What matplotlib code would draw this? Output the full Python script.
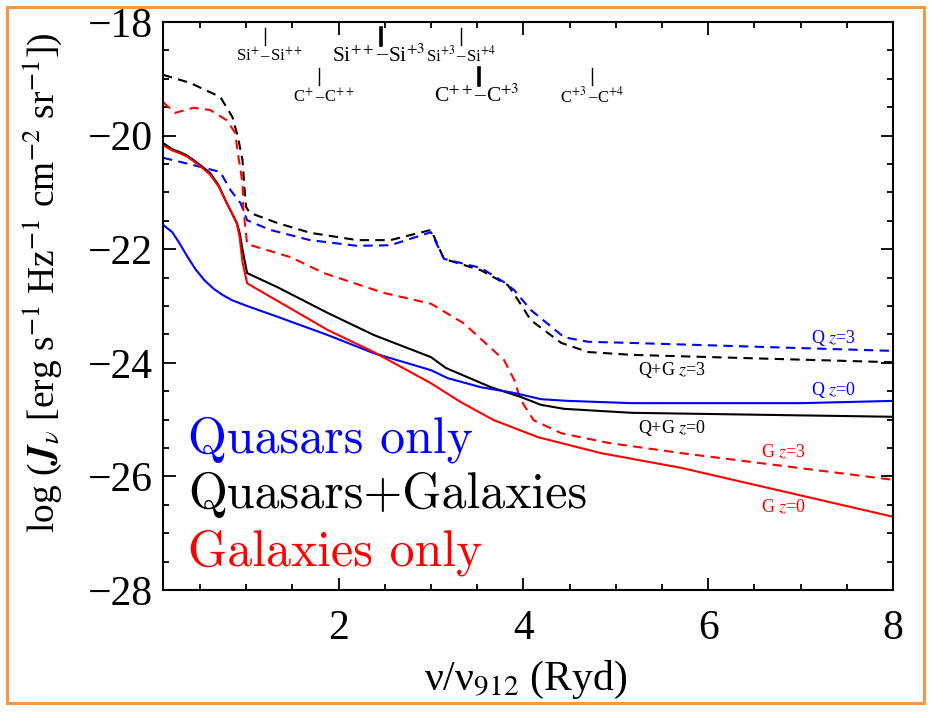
import matplotlib
matplotlib.use("Agg")
import matplotlib.pyplot as plt
from matplotlib.patches import Rectangle
from matplotlib.ticker import MultipleLocator

plt.rcParams['font.family'] = ['Liberation Serif', 'DejaVu Serif']
plt.rcParams['mathtext.fontset'] = 'stix'

# Q+G z=3 (black dashed)
qg3_x = [0.10, 0.39, 0.72, 0.85, 0.91, 0.96, 0.98, 1.00, 1.04, 1.34, 1.69, 2.20, 2.56, 3.00,
         3.14, 3.54, 3.83, 3.94, 4.08, 4.41, 4.70, 5.17, 8.00]
qg3_y = [-18.93, -19.07, -19.32, -19.67, -20.02, -20.43, -20.90, -21.26, -21.36, -21.54, -21.71,
         -21.84, -21.84, -21.66, -22.17, -22.37, -22.63, -22.89, -23.25, -23.65, -23.81, -23.86, -23.99]

# Q z=3 (blue dashed)
q3_x = [0.10, 0.43, 0.72, 0.83, 0.94, 1.01, 1.26, 1.69, 2.20, 2.56, 3.00, 3.14, 3.54, 3.79,
        3.90, 4.08, 4.44, 4.70, 5.17, 8.00]
q3_y = [-20.39, -20.52, -20.64, -20.96, -21.19, -21.49, -21.66, -21.84, -21.94, -21.93, -21.70,
        -22.17, -22.33, -22.58, -22.72, -23.07, -23.55, -23.63, -23.65, -23.79]

# G z=3 (red dashed)
g3_x = [0.10, 0.23, 0.43, 0.61, 0.79, 0.88, 0.91, 0.96, 0.97, 1.01, 1.48, 1.84, 2.49, 3.00,
        3.35, 3.79, 3.90, 3.97, 4.11, 4.41, 4.92, 5.71, 8.00]
g3_y = [-19.41, -19.60, -19.51, -19.55, -19.73, -19.95, -20.31, -20.83, -21.31, -21.91, -22.14,
        -22.42, -22.77, -22.96, -23.30, -23.95, -24.30, -24.65, -25.01, -25.24, -25.41, -25.59, -26.06]

# Q+G z=0 (black solid)
qg0_x = [0.10, 0.20, 0.28, 0.36, 0.43, 0.52, 0.61, 0.70, 0.79, 0.85, 0.90, 0.93, 0.96, 1.01,
         1.34, 1.88, 2.38, 3.00, 3.16, 3.65, 3.97, 4.19, 4.44, 5.17, 8.00]
qg0_y = [-20.13, -20.24, -20.29, -20.35, -20.43, -20.54, -20.66, -20.87, -21.19, -21.38, -21.54,
         -21.72, -22.01, -22.42, -22.67, -23.12, -23.51, -23.90, -24.09, -24.43, -24.60, -24.74,
         -24.81, -24.88, -24.95]

# G z=0 (red solid)
g0_x = [0.10, 0.20, 0.28, 0.36, 0.43, 0.52, 0.61, 0.70, 0.79, 0.85, 0.90, 0.93, 0.96, 1.01,
        1.88, 2.38, 3.00, 3.32, 3.68, 4.16, 4.84, 5.71, 8.00]
g0_y = [-20.17, -20.26, -20.31, -20.37, -20.45, -20.56, -20.69, -20.89, -21.19, -21.38, -21.56,
        -21.80, -22.23, -22.60, -23.42, -23.81, -24.36, -24.69, -25.01, -25.31, -25.59, -25.85, -26.71]

# Q z=0 (blue solid)
q0_x = [0.10, 0.20, 0.28, 0.36, 0.45, 0.55, 0.65, 0.75, 0.85, 1.01, 1.34, 1.88, 2.38, 3.00,
        3.18, 3.54, 3.90, 4.19, 4.48, 5.17, 7.01, 8.00]
q0_y = [-21.57, -21.70, -21.90, -22.12, -22.35, -22.55, -22.70, -22.81, -22.90, -23.00, -23.19,
        -23.51, -23.83, -24.13, -24.27, -24.43, -24.53, -24.64, -24.67, -24.71, -24.71, -24.67]

# ionisation edges (Ryd)
ion_x = [1.20, 2.46, 3.32, 1.79, 3.52, 4.74]
ion_left = ['Si$^{+}$', 'Si$^{++}$', 'Si$^{+3}$', 'C$^{+}$', 'C$^{++}$', 'C$^{+3}$']
ion_right = ['Si$^{++}$', 'Si$^{+3}$', 'Si$^{+4}$', 'C$^{++}$', 'C$^{+3}$', 'C$^{+4}$']
ion_row = [0, 0, 0, 1, 1, 1]
ion_big = [False, True, False, False, True, False]

# curve labels
lab_text = ['Q $z$=3', 'Q+G $z$=3', 'Q $z$=0', 'Q+G $z$=0', 'G $z$=3', 'G $z$=0']
lab_x = [7.36, 5.61, 7.36, 5.61, 6.81, 6.81]
lab_y = [-23.56, -24.12, -24.48, -25.15, -25.57, -26.54]
lab_col = ['blue', 'black', 'blue', 'black', 'red', 'red']

fig = plt.figure(figsize=(9.3, 7.12), dpi=100)
ax = fig.add_axes([0.1753, 0.1713, 0.785, 0.7978])

dash = (4.5, 3)
lw = 1.5
ax.plot(qg3_x, qg3_y, color='black', lw=lw, dashes=dash)
ax.plot(q3_x, q3_y, color='blue', lw=lw, dashes=dash)
ax.plot(g3_x, g3_y, color='red', lw=lw, dashes=dash)
ax.plot(qg0_x, qg0_y, color='black', lw=lw)
ax.plot(q0_x, q0_y, color='blue', lw=lw)
ax.plot(g0_x, g0_y, color='red', lw=lw)

ax.set_xlim(0.1, 8)
ax.set_ylim(-28, -18)
ax.xaxis.set_major_locator(MultipleLocator(2))
ax.xaxis.set_minor_locator(MultipleLocator(0.5))
ax.yaxis.set_major_locator(MultipleLocator(2))
ax.yaxis.set_minor_locator(MultipleLocator(0.5))
ax.tick_params(which='both', direction='in', top=True, right=True, width=1.3)
ax.tick_params(which='major', length=9, labelsize=30)
ax.tick_params(which='minor', length=4.5)
ax.tick_params(axis='x', pad=14)
ax.tick_params(axis='y', pad=7)
for s in ax.spines.values():
    s.set_linewidth(1.5)

# ion edge markers
row_tick = [(-18.11, -18.40), (-18.81, -19.11)]
row_base = [-18.70, -19.41]
for x, l, r, row, big in zip(ion_x, ion_left, ion_right, ion_row, ion_big):
    fs = 15.5 if big else 12
    ax.plot([x, x], row_tick[row], color='black', lw=2.6 if big else 1.0)
    half = fs * 0.3
    kw = dict(xy=(x, row_base[row]), textcoords='offset points', fontsize=fs)
    ax.annotate(l, xytext=(-half, 0), ha='right', va='baseline', **kw)
    ax.annotate('\u2013', xytext=(0, fs * 0.32), ha='center', va='center', **kw)
    ax.annotate(r, xytext=(half, 0), ha='left', va='baseline', **kw)

for t, x, y, c in zip(lab_text, lab_x, lab_y, lab_col):
    ax.text(x, y, t, color=c, fontsize=13, ha='center', va='center')

legend_font = ['cmr10', 'DejaVu Serif']
ax.text(0.034, 0.243, 'Quasars only', color='blue', fontsize=36, family=legend_font,
        transform=ax.transAxes, va='baseline')
ax.text(0.034, 0.144, 'Quasars+Galaxies', color='black', fontsize=36, family=legend_font,
        transform=ax.transAxes, va='baseline')
ax.text(0.034, 0.044, 'Galaxies only', color='red', fontsize=36, family=legend_font,
        transform=ax.transAxes, va='baseline')

fig.text(526 / 930, 1 - 680 / 712, '\u03bd/\u03bd$_{912}$ (Ryd)', fontsize=30,
         ha='center', va='center')
fig.text(42 / 930, 1 - 283 / 712,
         r'log ($\mathbfit{J}_{\nu}$ [erg s$^{-1}$ Hz$^{-1}$ cm$^{-2}$ sr$^{-1}$])',
         fontsize=27, rotation=90, ha='center', va='center')

# slide frame
fig.add_artist(Rectangle((7 / 930, 9 / 712), 917 / 930, 696 / 712, transform=fig.transFigure,
                         fill=False, ec='#F79646', lw=2.2))

fig.savefig('out.png', dpi=100)
